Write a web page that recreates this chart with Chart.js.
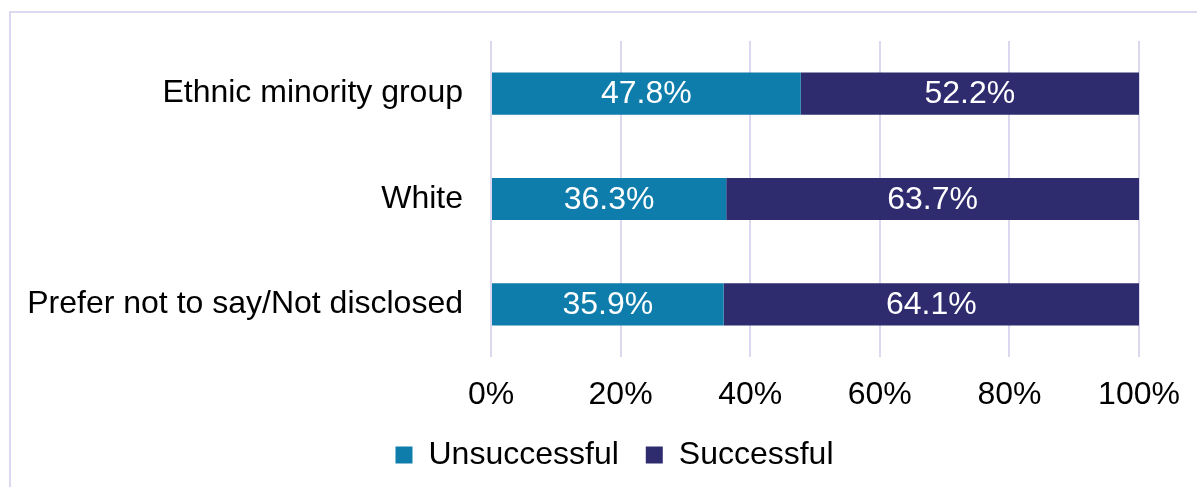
<!DOCTYPE html>
<html>
<head>
<meta charset="utf-8">
<script src="https://cdn.jsdelivr.net/npm/chart.js@4"></script>
<style>
  body { margin: 0; background: #fff; }
  #wrap { position: relative; width: 1197px; height: 487px; overflow: hidden; }
  #frame { position: absolute; left: 9px; top: 11px; width: 1300px; height: 600px; border: 2px solid #dcd8f0; }
  #chart { position: absolute; left: 0; top: 0; }
</style>
</head>
<body>
<div id="wrap">
  <div id="frame"></div>
  <canvas id="chart" width="1197" height="487"></canvas>
</div>
<script>
const categorias = ['Ethnic minority group', 'White', 'Prefer not to say/Not disclosed']
const unsuccessful = [47.8, 36.3, 35.9]
const successful = [52.2, 63.7, 64.1]
const xTicks = [0, 20, 40, 60, 80, 100]

const fonte = 'Liberation Sans, Arial, sans-serif'

// rotulos brancos no meio de cada segmento
const rotulos = {
  id: 'rotulos',
  afterDatasetsDraw(chart) {
    const ctx = chart.ctx
    ctx.save()
    ctx.fillStyle = '#ffffff'
    ctx.font = '32px ' + fonte
    ctx.textAlign = 'center'
    ctx.textBaseline = 'middle'
    chart.data.datasets.forEach((ds, i) => {
      chart.getDatasetMeta(i).data.forEach((bar, j) => {
        const p = bar.getCenterPoint()
        ctx.fillText(ds.data[j].toFixed(1) + '%', p.x, p.y + 1)
      })
    })
    ctx.restore()
  }
}

// legenda centrada um pouco mais a direita, como no original
const moverLegenda = {
  id: 'moverLegenda',
  afterLayout(chart) { chart.legend.left = 90 }
}

const semPadding = (s) => { s.paddingTop = 0; s.paddingBottom = 0; s.paddingLeft = 0; s.paddingRight = 0 }

new Chart(document.getElementById('chart'), {
  type: 'bar',
  data: {
    labels: categorias,
    datasets: [
      { label: 'Unsuccessful', data: unsuccessful, backgroundColor: '#0e7dab' },
      { label: 'Successful', data: successful, backgroundColor: '#2f2b6f' }
    ]
  },
  options: {
    indexAxis: 'y',
    responsive: false,
    animation: false,
    layout: { padding: { top: 41, right: 58, bottom: 6, left: 0 } },
    datasets: { bar: { categoryPercentage: 1, barPercentage: 0.4 } },
    scales: {
      x: {
        stacked: true,
        min: 0,
        max: 100,
        afterBuildTicks: (s) => { s.ticks = xTicks.map(v => ({ value: v })) },
        afterFit: (s) => { s.height = 55; semPadding(s) },
        grid: { color: '#dcd8f0', lineWidth: 2, drawTicks: false },
        border: { display: false },
        ticks: { padding: 19, color: '#000', font: { size: 32, family: fonte }, callback: v => v + '%' }
      },
      y: {
        stacked: true,
        afterFit: (s) => { s.width = 491; semPadding(s) },
        grid: { display: false, drawTicks: false },
        border: { display: false },
        ticks: { padding: 28, color: '#000', font: { size: 32, family: fonte } }
      }
    },
    plugins: {
      tooltip: { enabled: false },
      legend: {
        position: 'bottom',
        labels: { boxWidth: 17, boxHeight: 17, padding: 27, color: '#000', font: { size: 32, family: fonte } }
      }
    }
  },
  plugins: [rotulos, moverLegenda]
})
</script>
</body>
</html>
